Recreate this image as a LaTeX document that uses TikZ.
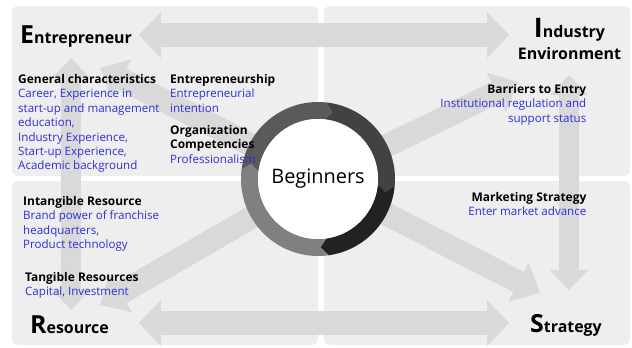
\documentclass[tikz,border=0pt]{standalone}
\usepackage{fontspec}
\setmainfont{Open Sans}
\usepackage{xcolor}
\usetikzlibrary{arrows.meta,calc}

\definecolor{panelgray}{HTML}{EEEEEE}
\definecolor{arrowgray}{HTML}{D9D9D9}
\definecolor{txtblue}{HTML}{2E2ED8}
\definecolor{ringa}{HTML}{424242}
\definecolor{ringb}{HTML}{222222}
\definecolor{ringc}{HTML}{808080}
\definecolor{ringd}{HTML}{5A5A5A}
\newcommand{\blockhead}[1]{\textcolor{black}{\fontsize{12}{14.5}\selectfont\bfseries #1}}

\begin{document}
\begin{tikzpicture}[x=1bp, y=-1bp,
	panel/.style={fill=panelgray, rounded corners=6bp},
	bigarrow/.style={draw=arrowgray, line width=24bp, {Triangle[length=22bp,width=46bp,line width=0pt]}-{Triangle[length=22bp,width=46bp,line width=0pt]}},
	vertarrow/.style={draw=arrowgray, line width=20bp, {Triangle[length=20bp,width=38bp,line width=0pt]}-{Triangle[length=20bp,width=38bp,line width=0pt]}},
	diagarrow/.style={draw=arrowgray, line width=23bp, -{Triangle[length=24bp,width=44bp,line width=0pt]}},
	biglab/.style={inner sep=0pt, font=\fontsize{16}{22}\selectfont\bfseries},
	textblock/.style={inner sep=0pt, text=txtblue, font=\fontsize{11.6}{14.5}\selectfont}]
	% Parameters
	\def\rout{77bp}
	\def\rmid{68.5bp}
	\def\rin{60bp}
	\def\tipang{6}

	\useasboundingbox (0,0) rectangle (632,347);

	%panels
	\fill[panel] (12,6) rectangle (318,176);
	\fill[panel] (324,6) rectangle (630,176);
	\fill[panel] (12,181) rectangle (318,345);
	\fill[panel] (324,181) rectangle (630,345);

	%arrow ends
	\coordinate (c) at (318,179);
	\coordinate (ea) at (139,35);
	\coordinate (ia) at (509,35);
	\coordinate (ra) at (139,323);
	\coordinate (sa) at (509,323);
	\coordinate (ev) at (71,58);
	\coordinate (rv) at (71,310);
	\coordinate (iv) at (569,75);
	\coordinate (sv) at (569,290);
	\coordinate (eu) at (100,68);
	\coordinate (iu) at (518,82);
	\coordinate (rl) at (100,305);
	\coordinate (sl) at (540,293);

	%arrows
	\draw[bigarrow] (ea) -- (ia);
	\draw[bigarrow] (ra) -- (sa);
	\draw[vertarrow] (ev) -- (rv);
	\draw[vertarrow] (iv) -- (sv);
	\foreach \t in {eu,iu,rl,sl}
		\draw[diagarrow] (c) -- (\t);

	%ring
	\foreach \a/\b/\col in {84/-5/ringa, -5/-82/ringb, -82/-187/ringc, 173/84/ringd}
		\fill[\col] ([shift={(\a:\rout)}]c) arc[start angle=\a, end angle=\b, radius=\rout]
			-- ([shift={(\b-\tipang:\rmid)}]c) -- ([shift={(\b:\rin)}]c)
			arc[start angle=\b, end angle=\a, radius=\rin]
			-- ([shift={(\a-\tipang:\rmid)}]c) -- cycle;
	\node[circle, fill=white, minimum size=120bp, inner sep=0pt, font=\fontsize{20}{24}\selectfont] (beg) at (c) {Beginners};

	%titles
	\node[biglab, anchor=base west] (ent) at (20,43) {{\fontsize{25}{25}\selectfont E}ntrepreneur};
	\node[biglab, anchor=base, align=center] (ind) at (569.5,59) {{\fontsize{27}{27}\selectfont I}ndustry\\Environment};
	\node[biglab, anchor=base west] (res) at (30,333) {{\fontsize{25}{25}\selectfont R}esource};
	\node[biglab, anchor=base west] (str) at (530,332) {{\fontsize{25}{25}\selectfont S}trategy};

	%texts
	\node[textblock, anchor=north west, align=left] (gen) at (18,74) {\blockhead{General characteristics}\\Career, Experience in\\start-up and management\\education,\\Industry Experience,\\Start-up Experience,\\Academic background};
	\node[textblock, anchor=north west, align=left] (eship) at (170,74) {\blockhead{Entrepreneurship}\\Entrepreneurial\\intention};
	\node[textblock, anchor=north west, align=left] (org) at (170,125) {\blockhead{Organization}\\\blockhead{Competencies}\\Professionalism};
	\node[textblock, anchor=north east, align=right] (bar) at (586.5,84) {\blockhead{Barriers to Entry}\\Institutional regulation and\\support status};
	\node[textblock, anchor=north west, align=left] (intang) at (23,196) {\blockhead{Intangible Resource}\\Brand power of franchise\\headquarters,\\Product technology};
	\node[textblock, anchor=north west, align=left] (tang) at (25,272) {\blockhead{Tangible Resources}\\Capital, Investment};
	\node[textblock, anchor=north east, align=right] (mkt) at (586.5,192) {\blockhead{Marketing Strategy}\\Enter market advance};
\end{tikzpicture}
\end{document}
